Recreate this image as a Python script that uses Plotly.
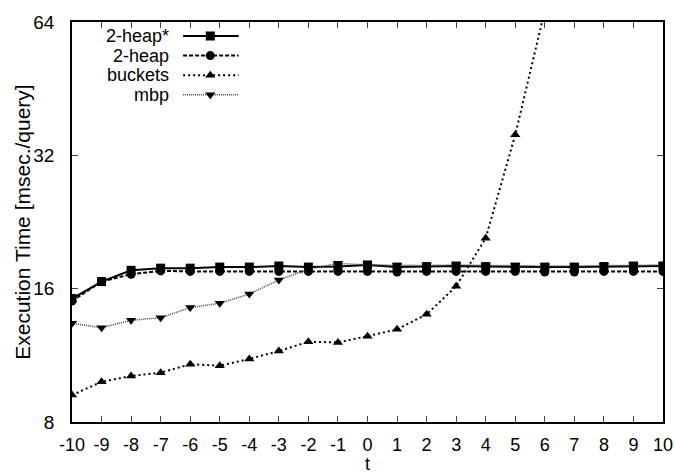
import plotly.graph_objects as go

t = list(range(-10, 11))
t_labels = [str(v) for v in t]
heap_star = [15.2, 16.6, 17.6, 17.8, 17.8, 17.9, 17.9, 18.0, 17.9, 17.95, 18.1,
             17.9, 17.95, 18.0, 17.95, 17.9, 17.9, 17.9, 17.95, 18.0, 18.0]
heap2 = [15.0, 16.6, 17.25, 17.55, 17.5, 17.5, 17.5, 17.5, 17.5, 17.5, 17.5,
         17.45, 17.5, 17.5, 17.5, 17.5, 17.45, 17.45, 17.5, 17.5, 17.5]
buckets_t = list(range(-10, 7))
buckets = [9.2, 9.86, 10.16, 10.34, 10.8, 10.72, 11.1, 11.57, 12.14, 12.1, 12.5,
           12.95, 14.0, 16.2, 20.8, 35.6, 68.0]
mbp = [13.36, 13.06, 13.57, 13.76, 14.5, 14.83, 15.56, 16.74, 17.7, 18.25, 18.1,
       18.05, 18.05, 18.1, 18.05, 18.05, 18.0, 18.0, 18.05, 18.1, 18.1]
y_ticks = [8, 16, 32, 64]

names = ["2-heap*", "2-heap", "buckets", "mbp"]
styles = [
    dict(dash="solid", color="black", width=2, symbol="square", msize=9),
    dict(dash="4px,2px", color="black", width=2, symbol="circle", msize=9),
    dict(dash="2px,3px", color="black", width=2, symbol="triangle-up", msize=9),
    dict(dash="1px,1px", color="#444444", width=1.5, symbol="triangle-down", msize=9),
]
series = [(t, heap_star), (t, heap2), (buckets_t, buckets), (t, mbp)]

fig = go.Figure()
for (xs, ys), st, nm in zip(series, styles, names):
    fig.add_trace(go.Scatter(
        x=xs, y=ys, mode="lines+markers", name=nm, showlegend=False,
        line=dict(color=st["color"], width=st["width"], dash=st["dash"]),
        marker=dict(symbol=st["symbol"], size=st["msize"], color="black"),
        cliponaxis=True,
    ))

# gnuplot-style key: text right-aligned, sample to its right
key_y = [0.965, 0.916, 0.867, 0.818]
for st, nm, ky in zip(styles, names, key_y):
    fig.add_trace(go.Scatter(
        x=[0.188, 0.234, 0.282], y=[ky, ky, ky], mode="lines",
        xaxis="x2", yaxis="y2", showlegend=False, hoverinfo="skip",
        line=dict(color=st["color"], width=st["width"], dash=st["dash"]),
    ))
    fig.add_trace(go.Scatter(
        x=[0.234], y=[ky], mode="markers",
        xaxis="x2", yaxis="y2", showlegend=False, hoverinfo="skip",
        marker=dict(symbol=st["symbol"], size=st["msize"], color="black"),
    ))
    fig.add_annotation(x=0.168, y=ky, xref="paper", yref="paper", text=nm,
                       showarrow=False, xanchor="right", yanchor="middle",
                       font=dict(size=18, color="black"))

# axis titles
fig.add_annotation(x=0.5, y=-0.105, xref="paper", yref="paper", text="t",
                   showarrow=False, xanchor="center", yanchor="middle",
                   font=dict(size=18, color="black"))
fig.add_annotation(x=-0.085, y=0.5, xref="paper", yref="paper",
                   text="Execution Time [msec./query]", textangle=-90,
                   showarrow=False, xanchor="center", yanchor="middle",
                   font=dict(size=21, color="black"))

font = dict(family="Liberation Sans, Arial, sans-serif", size=19, color="black")
fig.update_layout(
    width=675, height=475,
    margin=dict(l=72, r=12, t=22, b=53),
    paper_bgcolor="white", plot_bgcolor="white",
    font=font,
    xaxis=dict(range=[-10, 10], tickvals=t, ticktext=t_labels, ticks="inside", ticklen=6,
               showline=True, linecolor="black", linewidth=1.5, mirror="allticks",
               showgrid=False, zeroline=False, ticklabelstandoff=6, automargin=False,
               tickfont=dict(size=18)),
    yaxis=dict(type="log", range=[0.90309, 1.80618], tickvals=y_ticks,
               ticktext=[str(v) for v in y_ticks], ticks="inside", ticklen=6,
               showline=True, linecolor="black", linewidth=1.5, mirror="allticks",
               showgrid=False, zeroline=False, ticklabelstandoff=12, automargin=False,
               tickfont=dict(size=19)),
    xaxis2=dict(overlaying="x", range=[0, 1], visible=False, automargin=False),
    yaxis2=dict(overlaying="y", range=[0, 1], visible=False, automargin=False),
)
fig.write_html("out.html")
